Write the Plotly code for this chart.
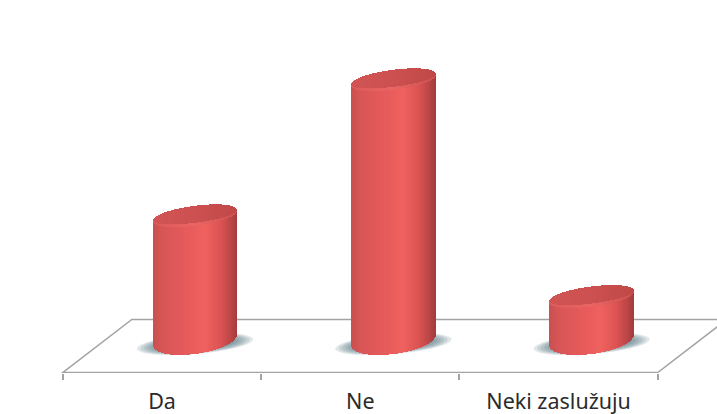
import numpy as np
import plotly.graph_objects as go

categories = ["Da", "Ne", "Neki zaslužuju"]
values = [29, 61, 10]

# Axis scale: pixels per category and per value unit
W, H, BOTTOM = 717, 414, 41
PX_X = 198.3
PX_Y = 4.25
LABEL0 = 162.0
FLOOR_PX = 34.0          # base of the bars sits this far above the front edge
x_range = [-LABEL0 / PX_X, (W - LABEL0) / PX_X]
y_range = [-FLOOR_PX / PX_Y, (H - BOTTOM - FLOOR_PX) / PX_Y]

# Cylinder drawing parameters, in pixels
DEPTH_DX = 33.0 / PX_X   # depth shift of the bars relative to the tick labels
A = 42.0                 # half width
TILT = 0.125             # slope of the elliptical caps
B_TOP, B_BASE = 10.0, 15.0
ROUND = 0.45             # exponent below 0.5 gives fuller cap outlines than a true ellipse

SIDE_STOPS = [(0, "#cb5051"), (0.12, "#d95657"), (0.45, "#e95c5c"), (0.62, "#ef625f"),
              (0.8, "#dc5453"), (0.93, "#bc4647"), (1, "#a53c3d")]
TOP_STOPS = [(0, "#d05554"), (0.5, "#cd5150"), (1, "#c04948")]
RIM_STOPS = [(0, "#de5b5b"), (0.5, "#ea6564"), (1, "#cc5150")]


def ramp(stops, u):
    pos = [s[0] for s in stops]
    rgb = np.array([[int(s[1][i:i + 2], 16) for i in (1, 3, 5)] for s in stops], float)
    return [f"rgb({int(np.interp(v, pos, rgb[:, 0]))},{int(np.interp(v, pos, rgb[:, 1]))},"
            f"{int(np.interp(v, pos, rgb[:, 2]))})" for v in u]


t = np.arange(-A + 0.5, A, 1.0)
u = (t + A) / (2 * A)
root = (1 - (t / A) ** 2) ** ROUND

fig = go.Figure()
shapes = []

# Ground plane outline, sharing the category scale of the x axis
depth_x = 69.0 / PX_X
depth_y = 53.0 / PX_Y
y_front = y_range[0] + 0.5 / PX_Y
y_back = y_front + depth_y
floor_path = (f"M 2.5,{y_front} L -0.5,{y_front} L {-0.5 + depth_x},{y_back} "
              f"L {2.5 + depth_x + 0.3},{y_back} M 2.5,{y_front} L {2.5 + depth_x},{y_back}")
shapes.append(dict(type="path", path=floor_path, xref="x", yref="y", layer="below",
                   line=dict(color="#a3a3a3", width=1.5)))

for i, (name, v) in enumerate(zip(categories, values)):
    cx = i + DEPTH_DX

    # Soft contact shadow built from nested translucent ellipses
    for k in range(9):
        f = 1 - k * 0.06
        th = np.linspace(0, 2 * np.pi, 60)
        px = (A + 16) * f * np.cos(th)
        py = 10 * f * np.sin(th) + 0.08 * px - 5
        pts = [f"{cx + a / PX_X:.4f},{b / PX_Y:.3f}" for a, b in zip(px, py)]
        shapes.append(dict(type="path", path="M " + " L ".join(pts) + " Z", xref="x", yref="y",
                           layer="below", line=dict(width=0),
                           fillcolor="rgba(80,112,122,0.17)"))

    x = cx + t / PX_X
    tilt = TILT * t
    base_lo = (tilt - B_BASE * root) / PX_Y
    top_lo = v + (tilt - B_TOP * root) / PX_Y
    top_hi = v + (tilt + B_TOP * root) / PX_Y
    inner_lo = v + (tilt - (B_TOP - 2.0) * root + 1.0) / PX_Y

    common = dict(x=x, width=1.0 / PX_X, showlegend=False, hoverinfo="skip",
                  marker_line_width=0)
    # Curved wall, then the lighter rim of the cap, then the cap itself
    fig.add_bar(base=base_lo, y=top_lo - base_lo, marker_color=ramp(SIDE_STOPS, u), name=name, **common)
    fig.add_bar(base=top_lo, y=top_hi - top_lo, marker_color=ramp(RIM_STOPS, u), **common)
    fig.add_bar(base=inner_lo, y=top_hi - inner_lo, marker_color=ramp(TOP_STOPS, u), **common)

fig.update_layout(
    width=W, height=H, margin=dict(l=0, r=0, t=0, b=BOTTOM),
    paper_bgcolor="white", plot_bgcolor="white", barmode="overlay", bargap=0,
    showlegend=False, shapes=shapes,
    font=dict(family="Noto Sans, sans-serif", size=21.5, color="#2b2b2b"),
    xaxis=dict(range=x_range, tickmode="array", tickvals=[0, 1, 2], ticktext=categories,
               ticks="", showgrid=False, zeroline=False, showline=False,
               ticklabelstandoff=13,
               minor=dict(tickmode="array", tickvals=[-0.5, 0.5, 1.5, 2.5], ticks="outside",
                          ticklen=6, tickwidth=1.5, tickcolor="#a3a3a3", showgrid=False)),
    yaxis=dict(range=y_range, visible=False),
)

fig.write_html("out.html", config={"displayModeBar": False})
